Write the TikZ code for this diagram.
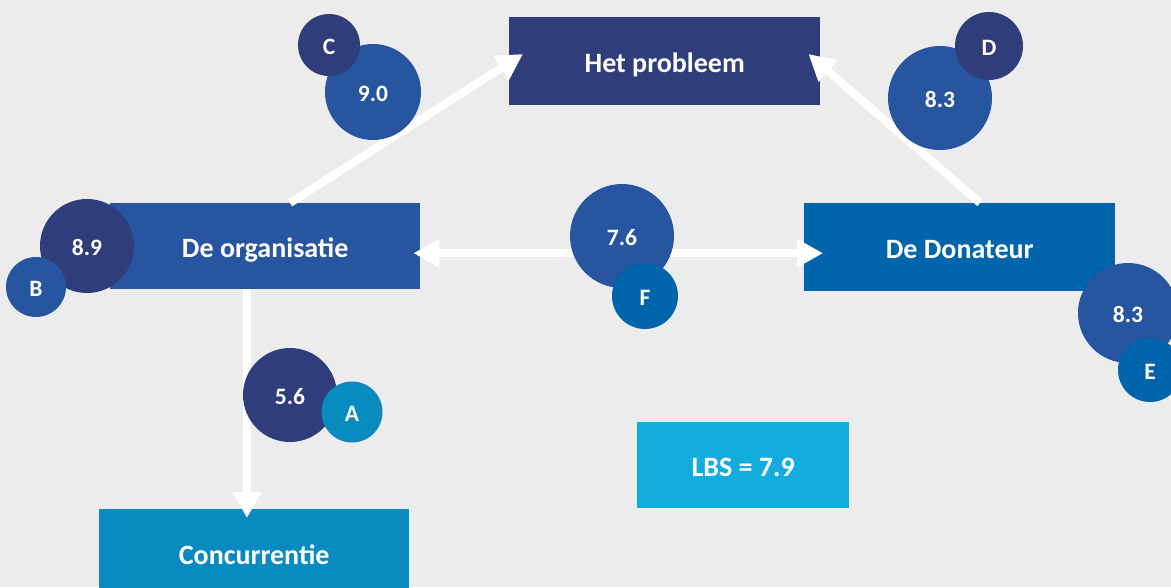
\documentclass[tikz,border=0pt]{standalone}
\usepackage{fontspec}
\setmainfont{Carlito}
\usetikzlibrary{arrows.meta,calc}
\definecolor{bg}{HTML}{ECECEC}
\definecolor{navy}{HTML}{303D7B}
\definecolor{midblue}{HTML}{2755A0}
\definecolor{donblue}{HTML}{0065AA}
\definecolor{conblue}{HTML}{0A8BBF}
\definecolor{lbsblue}{HTML}{14ABDE}
\begin{document}
\begin{tikzpicture}[x=1pt,y=-1pt,
  box/.style={fill=#1, text=white, font=\fontsize{28}{30}\selectfont\bfseries, inner sep=0pt, text height=22pt, text depth=0pt, anchor=north west},
  circ/.style={circle, fill=#1, text=white, font=\fontsize{23.5}{26}\selectfont\bfseries, inner sep=0pt, text height=18pt, text depth=0pt},
  arr/.style={draw=white, line width=8pt, -{Triangle[width=27pt,length=26pt]}},
  biarr/.style={draw=white, line width=8pt, {Triangle[width=27pt,length=26pt]}-{Triangle[width=27pt,length=26pt]}}]
\useasboundingbox (0,0) rectangle (1171,587);
\clip (0,0) rectangle (1171,587);
\fill[bg] (0,0) rectangle (1171,587);

% boxes
\node[box=navy, minimum width=311pt, minimum height=88pt] (prob) at (509,17) {Het probleem};
\node[box=midblue, minimum width=310pt, minimum height=86pt] (org) at (110,203) {De organisatie};
\node[box=donblue, minimum width=311pt, minimum height=88pt] (don) at (804,203) {De Donateur};
\node[box=conblue, minimum width=310pt, minimum height=88pt] (con) at (99,509) {Concurrentie};
\node[box=lbsblue, minimum width=212pt, minimum height=86pt] (lbs) at (637,422) {LBS = 7.9};

% arrows
\draw[arr] ($(org.north west)+(180,0)$) -- ($(prob.north west)+(14,37)$);
\draw[arr] ($(don.north west)+(176,0)$) -- ($(prob.north east)+(-12,37)$);
\draw[biarr] ($(org.east)+(-7,7)$) -- ($(don.west)+(19,6)$);
\draw[arr] ($(org.south west)+(137,0)$) -- ($(con.north west)+(148,9)$);

% circles
\node[circ=midblue, minimum size=96pt] (n90) at (373,92) {9.0};
\node[circ=navy, minimum size=62pt] (c) at (329,45) {C};
\node[circ=midblue, minimum size=104pt] (n83a) at (940,98) {8.3};
\node[circ=navy, minimum size=68pt] (d) at (989,46) {D};
\node[circ=navy, minimum size=94pt] (n89) at (87,246) {8.9};
\node[circ=midblue, minimum size=60pt] (b) at (36,287) {B};
\node[circ=midblue, minimum size=104pt] (n76) at (622,236) {7.6};
\node[circ=donblue, minimum size=66pt] (f) at (645,296) {F};
\node[circ=midblue, minimum size=100pt] (n83b) at (1128,313) {8.3};
\node[circ=donblue, minimum size=64pt] (e) at (1150,370) {E};
\node[circ=navy, minimum size=94pt] (n56) at (290,395) {5.6};
\node[circ=conblue, minimum size=61pt] (a) at (352,412) {A};
\end{tikzpicture}
\end{document}
